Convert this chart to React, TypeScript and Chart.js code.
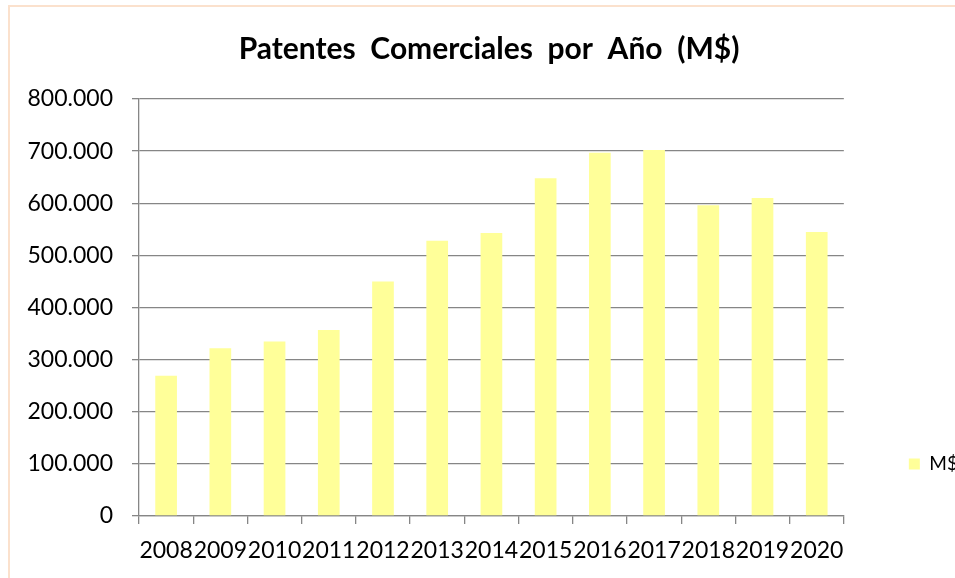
import React, { useEffect, useRef } from "react";
import { Chart, registerables } from "chart.js";

Chart.register(...registerables);

const categories = ["2008", "2009", "2010", "2011", "2012", "2013", "2014", "2015", "2016", "2017", "2018", "2019", "2020"];
const values = [269000, 322000, 335000, 357000, 450000, 528000, 543000, 648000, 697000, 702000, 596000, 610000, 545000];
const seriesLabel = "M$";
const titleText = "Patentes  Comerciales  por  Año  (M$)";
const yMin = 0;
const yMax = 800000;
const yStep = 100000;

const FONT = "Lato, 'Open Sans', sans-serif";
const GRID = "#868686";

function fmt(v: number): string {
  return String(v).replace(/\B(?=(\d{3})+(?!\d))/g, ".");
}

const CANVAS_LEFT = 10;
const CANVAS_TOP = 6;
const CANVAS_W = 958;
const CANVAS_H = 916;

export default function App() {
  const ref = useRef<HTMLCanvasElement | null>(null);

  useEffect(() => {
    if (!ref.current) return;
    const chart = new Chart(ref.current, {
      type: "bar",
      data: {
        labels: categories,
        datasets: [
          {
            label: seriesLabel,
            data: values,
            backgroundColor: "#FFFF99",
            borderWidth: 0,
            barPercentage: 0.4,
            categoryPercentage: 1,
          },
        ],
      },
      options: {
        responsive: false,
        animation: false,
        maintainAspectRatio: false,
        layout: { padding: 0 },
        plugins: {
          tooltip: { enabled: false },
          title: {
            display: true,
            text: titleText,
            color: "#000",
            font: { family: FONT, size: 30, weight: "bold", lineHeight: 1.2 },
            padding: { top: 25, bottom: 32 },
          },
          legend: {
            display: true,
            position: "right",
            labels: {
              boxWidth: 11,
              boxHeight: 11,
              padding: 65,
              color: "#000",
              font: { family: FONT, size: 19 },
            },
          },
        },
        scales: {
          x: {
            offset: true,
            grid: {
              offset: true,
              display: true,
              drawOnChartArea: false,
              drawTicks: true,
              tickLength: 8,
              color: GRID,
              lineWidth: 1.3,
            },
            border: { display: true, color: GRID, width: 1.3 },
            ticks: {
              autoSkip: false,
              maxRotation: 0,
              minRotation: 0,
              padding: 13,
              color: "#000",
              font: { family: FONT, size: 23 },
            },
            afterFit: (scale: any) => {
              scale.height = CANVAS_TOP + CANVAS_H - 516;
            },
          },
          y: {
            min: yMin,
            max: yMax,
            grid: {
              display: true,
              drawOnChartArea: true,
              drawTicks: true,
              tickLength: 7,
              color: GRID,
              lineWidth: 1.3,
            },
            border: { display: true, color: GRID, width: 1.3 },
            ticks: {
              stepSize: yStep,
              padding: 19,
              color: "#000",
              font: { family: FONT, size: 23 },
              callback: (v: any) => fmt(Number(v)),
            },
            afterFit: (scale: any) => {
              scale.width = 139 - CANVAS_LEFT;
            },
          },
        },
      },
    });
    return () => chart.destroy();
  }, []);

  return (
    <div
      style={{
        position: "fixed",
        left: 0,
        top: 0,
        width: 955,
        height: 578,
        overflow: "hidden",
        background: "#fff",
      }}
    >
      <div
        style={{
          position: "absolute",
          left: 8,
          top: 5,
          width: 1100,
          height: 1000,
          border: "2px solid #FBE1CD",
          background: "#fff",
        }}
      />
      <canvas
        ref={ref}
        width={CANVAS_W}
        height={CANVAS_H}
        style={{ position: "absolute", left: CANVAS_LEFT, top: CANVAS_TOP, width: CANVAS_W, height: CANVAS_H }}
      />
    </div>
  );
}
